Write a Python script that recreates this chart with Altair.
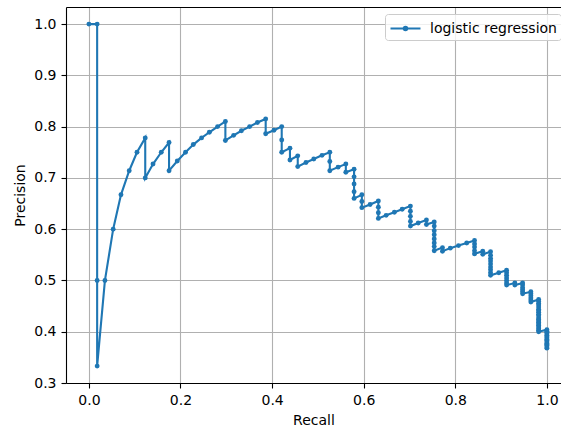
import altair as alt
import pandas as pd

# Precision-recall curve points (in drawing order)
recall = [
    0.000,
    0.018, 0.018, 0.018,
    0.035, 0.053, 0.070, 0.088, 0.105,
    0.123, 0.123,
    0.140, 0.158,
    0.175, 0.175,
    0.193, 0.211, 0.228, 0.246, 0.263, 0.281,
    0.298, 0.298,
    0.316, 0.333, 0.351, 0.368,
    0.386, 0.386,
    0.404,
    0.421, 0.421, 0.421,
    0.439, 0.439,
    0.456, 0.456,
    0.474, 0.491, 0.509,
    0.526, 0.526, 0.526,
    0.544,
    0.561, 0.561,
    0.579, 0.579, 0.579, 0.579, 0.579,
    0.596, 0.596, 0.596,
    0.614,
    0.632, 0.632, 0.632, 0.632,
    0.649, 0.667, 0.684,
    0.702, 0.702, 0.702, 0.702, 0.702,
    0.719,
    0.737, 0.737,
    0.754, 0.754, 0.754, 0.754, 0.754, 0.754, 0.754, 0.754,
    0.772, 0.772,
    0.789, 0.807, 0.825,
    0.842, 0.842, 0.842, 0.842, 0.842,
    0.860, 0.860,
    0.877, 0.877, 0.877, 0.877, 0.877, 0.877, 0.877, 0.877, 0.877,
    0.895,
    0.912, 0.912, 0.912, 0.912, 0.912, 0.912, 0.912,
    0.930, 0.930,
    0.947, 0.947, 0.947, 0.947, 0.947, 0.947,
    0.965, 0.965, 0.965, 0.965, 0.965, 0.965,
    0.982, 0.982, 0.982, 0.982, 0.982, 0.982, 0.982, 0.982, 0.982, 0.982,
    0.982, 0.982, 0.982, 0.982, 0.982, 0.982, 0.982, 0.982, 0.982, 0.982,
    1.000, 1.000, 1.000, 1.000, 1.000, 1.000, 1.000, 1.000, 1.000, 1.000,
    1.000, 1.000, 1.000, 1.000, 1.000,
]
precision = [
    1.000,
    1.000, 0.500, 0.333,
    0.500, 0.600, 0.667, 0.714, 0.750,
    0.778, 0.700,
    0.727, 0.750,
    0.769, 0.714,
    0.733, 0.750, 0.765, 0.778, 0.789, 0.800,
    0.810, 0.773,
    0.783, 0.792, 0.800, 0.808,
    0.815, 0.786,
    0.793,
    0.800, 0.774, 0.750,
    0.758, 0.735,
    0.743, 0.722,
    0.730, 0.737, 0.744,
    0.750, 0.732, 0.714,
    0.721,
    0.727, 0.711,
    0.717, 0.702, 0.688, 0.673, 0.660,
    0.667, 0.654, 0.642,
    0.648,
    0.655, 0.643, 0.632, 0.621,
    0.627, 0.633, 0.639,
    0.645, 0.635, 0.625, 0.615, 0.606,
    0.612,
    0.618, 0.609,
    0.614, 0.606, 0.597, 0.589, 0.581, 0.573, 0.566, 0.558,
    0.564, 0.557,
    0.563, 0.568, 0.573,
    0.578, 0.571, 0.565, 0.558, 0.552,
    0.557, 0.551,
    0.556, 0.549, 0.543, 0.538, 0.532, 0.526, 0.521, 0.515, 0.510,
    0.515,
    0.520, 0.515, 0.510, 0.505, 0.500, 0.495, 0.491,
    0.495, 0.491,
    0.495, 0.491, 0.486, 0.482, 0.478, 0.474,
    0.478, 0.474, 0.470, 0.466, 0.462, 0.458,
    0.463, 0.459, 0.455, 0.452, 0.448, 0.444, 0.441, 0.438, 0.434, 0.431,
    0.427, 0.424, 0.421, 0.418, 0.415, 0.412, 0.409, 0.406, 0.403, 0.400,
    0.404, 0.401, 0.399, 0.396, 0.393, 0.390, 0.388, 0.385, 0.383, 0.380,
    0.377, 0.375, 0.373, 0.370, 0.368,
]
series_name = "logistic regression"
x_ticks = [0.0, 0.2, 0.4, 0.6, 0.8, 1.0]
y_ticks = [0.3, 0.4, 0.5, 0.6, 0.7, 0.8, 0.9, 1.0]

df = pd.DataFrame({"recall": recall, "precision": precision})
df["series"] = series_name
df["step"] = list(range(len(df)))

FONT = "DejaVu Sans"
BLUE = "#1f77b4"

x_scale = alt.Scale(domain=[-0.05, 1.0308], nice=False, zero=False)
y_scale = alt.Scale(domain=[0.3, 1.0333], nice=False, zero=False)

legend_path = ("M-1,0L2.333,0 "
               "M0.861,0A0.194,0.194,0,1,1,0.473,0A0.194,0.194,0,1,1,0.861,0 "
               "M0.745,0A0.078,0.078,0,1,1,0.589,0A0.078,0.078,0,1,1,0.745,0")

curve = alt.Chart(df).mark_line(
    strokeWidth=2.1,
    point=alt.OverlayMarkDef(filled=True, size=24, color=BLUE),
).encode(
    x=alt.X("recall:Q", scale=x_scale,
            axis=alt.Axis(values=x_ticks, format=".1f", title="Recall", grid=True)),
    y=alt.Y("precision:Q", scale=y_scale,
            axis=alt.Axis(values=y_ticks, format=".1f", title="Precision", grid=True)),
    order=alt.Order("step:Q"),
    color=alt.Color(
        "series:N",
        scale=alt.Scale(range=[BLUE]),
        legend=alt.Legend(
            title=None, orient="none", legendX=319, legendY=7,
            symbolType=legend_path, symbolSize=324, symbolStrokeWidth=2.1,
            symbolStrokeColor=BLUE, symbolFillColor=BLUE,
            labelFont=FONT, labelFontSize=14, labelColor="black", labelOffset=20,
            padding=4, fillColor="rgba(255,255,255,0.8)", strokeColor="#cccccc",
            cornerRadius=3,
        ),
    ),
)

top_spine = alt.Chart(df).mark_point(opacity=0).encode(
    x=alt.X("recall:Q", scale=x_scale,
            axis=alt.Axis(orient="top", labels=False, ticks=False, grid=False,
                          title=None, domain=True)),
)

chart = alt.layer(curve, top_spine).resolve_axis(x="independent").properties(
    width=495, height=376,
    autosize=alt.AutoSizeParams(type="none"),
    padding={"left": 66, "top": 7, "right": 0, "bottom": 47},
).configure_view(stroke=None).configure_axis(
    labelFont=FONT, labelFontSize=14, labelColor="black",
    titleFont=FONT, titleFontSize=14, titleColor="black", titleFontWeight="normal",
    domainColor="black", domainWidth=1.1,
    tickColor="black", tickWidth=1.1, tickSize=5, labelPadding=5,
    gridColor="#b0b0b0", gridWidth=1.1, gridOpacity=1,
    titlePadding=6,
)

chart.save("out.html", embed_options={"renderer": "svg", "actions": False})
